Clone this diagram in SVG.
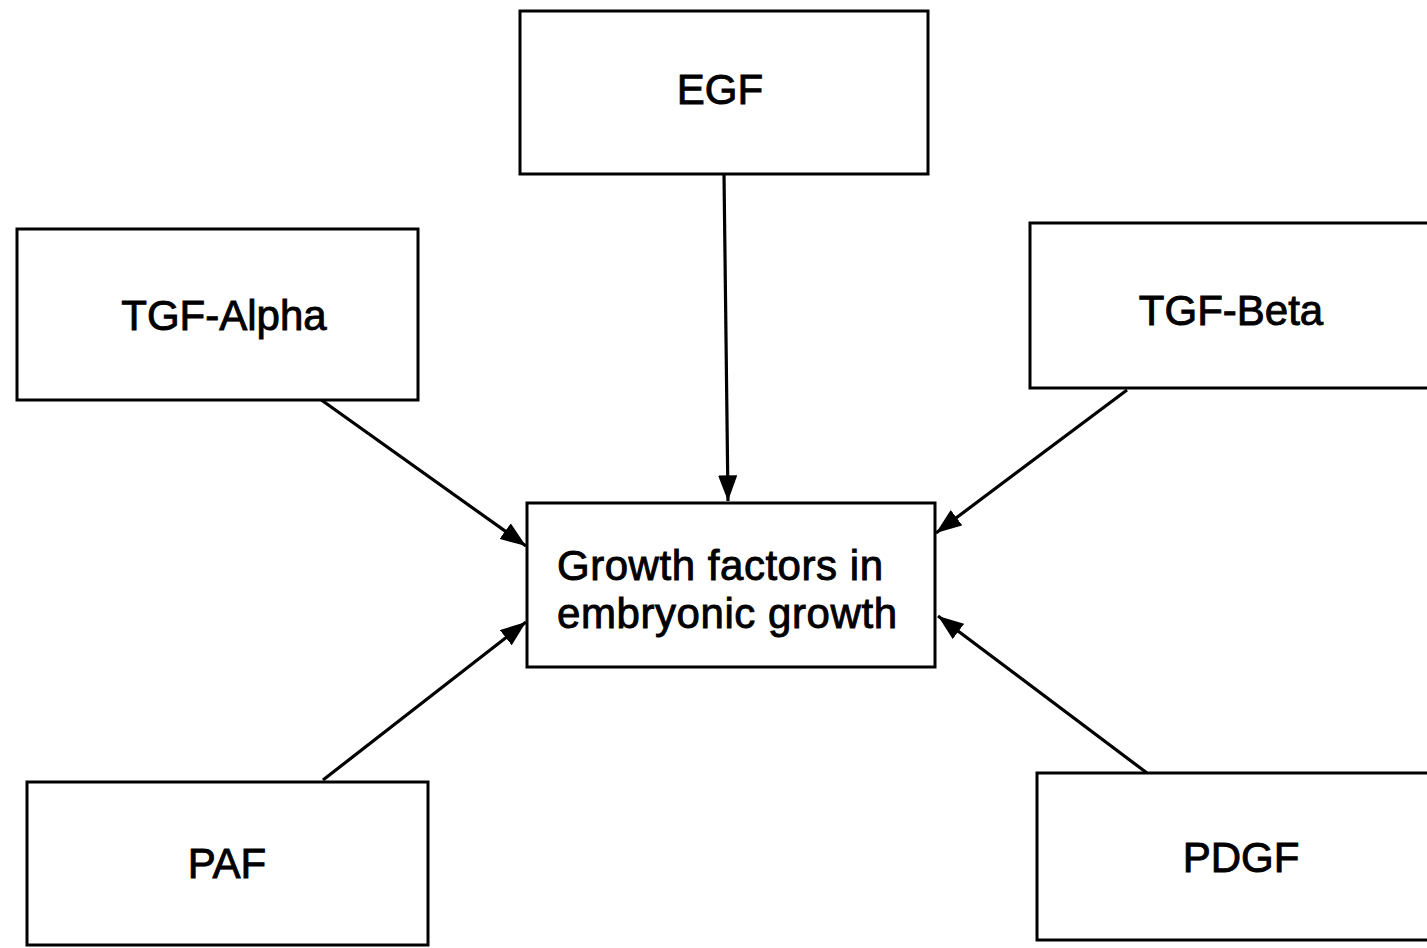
<svg xmlns="http://www.w3.org/2000/svg" width="1427" height="948" viewBox="0 0 1427 948">
<style>
.box{fill:#fff;stroke:#000;stroke-width:3}
.lbl{font-family:"Liberation Sans",Arial,sans-serif;font-size:42px;fill:#000;stroke:#000;stroke-width:0.9px}
.mid{text-anchor:middle}
.edge{stroke:#000;stroke-width:3.2;fill:none;marker-end:url(#ah)}
</style>
<defs>
<marker id="ah" markerWidth="8" markerHeight="6" refX="8" refY="3" orient="auto" markerUnits="strokeWidth">
<path d="M0,0 L8,3 L0,6 Z" fill="#000"/>
</marker>
</defs>
<rect width="1427" height="948" fill="#fff"/>
<g id="connectors">
<line class="edge" x1="724" y1="174" x2="728" y2="501"/>
<line class="edge" x1="320" y1="399" x2="526" y2="546"/>
<line class="edge" x1="1127" y1="390" x2="936" y2="533"/>
<line class="edge" x1="323" y1="780" x2="526" y2="622"/>
<line class="edge" x1="1147" y1="773" x2="938" y2="616"/>
</g>
<g id="egf">
<rect class="box" x="520" y="11" width="408" height="163"/>
<text class="lbl mid" x="720" y="104">EGF</text>
</g>
<g id="tgf-alpha">
<rect class="box" x="17" y="229" width="401" height="171"/>
<text class="lbl mid" x="224" y="330">TGF-Alpha</text>
</g>
<g id="tgf-beta">
<rect class="box" x="1030" y="223" width="410" height="165"/>
<text class="lbl mid" x="1231" y="325">TGF-Beta</text>
</g>
<g id="center">
<rect class="box" x="527" y="503" width="408" height="164"/>
<text class="lbl" x="557" y="580" textLength="326">Growth factors in</text>
<text class="lbl" x="557" y="628" textLength="340">embryonic growth</text>
</g>
<g id="paf">
<rect class="box" x="27" y="782" width="401" height="163"/>
<text class="lbl mid" x="227" y="878">PAF</text>
</g>
<g id="pdgf">
<rect class="box" x="1037" y="773" width="410" height="167"/>
<text class="lbl mid" x="1241" y="872">PDGF</text>
</g>
</svg>
